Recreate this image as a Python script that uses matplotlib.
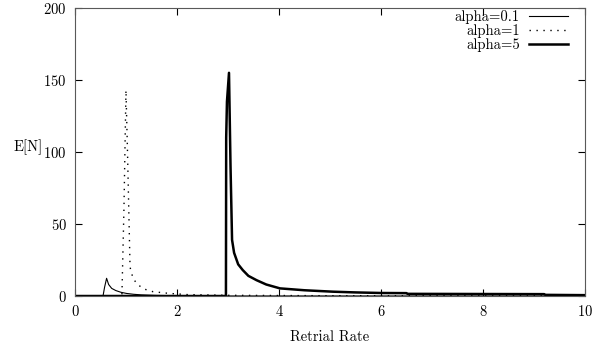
#!/usr/bin/env python3
"""Expected number in orbit vs retrial rate for three alpha values."""

import matplotlib

matplotlib.use("Agg")
import matplotlib.pyplot as plt

plt.rcParams["font.family"] = "serif"
plt.rcParams["font.serif"] = ["cmr10", "DejaVu Serif"]
plt.rcParams["axes.formatter.use_mathtext"] = True
plt.rcParams["mathtext.fontset"] = "cm"

# alpha = 0.1
rate_a01 = [0.0, 0.55, 0.58, 0.62, 0.66, 0.72, 0.8, 0.9, 1.01, 1.15, 1.3, 1.6, 2.0, 3.0, 10.0]
en_a01 = [0.0, 0.0, 6.0, 12.3, 8.0, 5.3, 3.8, 2.6, 1.8, 1.2, 0.8, 0.4, 0.2, 0.05, 0.0]

# alpha = 1
rate_a1 = [0.0, 0.92, 0.96, 1.0, 1.03, 1.08, 1.14, 1.24, 1.37, 1.53, 1.85, 2.2, 3.0, 5.0, 10.0]
en_a1 = [0.0, 0.0, 60.0, 143.0, 100.0, 20.0, 12.0, 7.6, 4.7, 3.0, 1.8, 1.0, 0.5, 0.2, 0.1]

# alpha = 5
rate_a5 = [0.0, 2.96, 2.965, 2.98, 3.02, 3.05, 3.08, 3.12, 3.2, 3.29, 3.4, 3.56, 3.75,
           4.02, 4.5, 5.06, 5.5, 6.0, 6.5, 6.52, 9.2, 9.22, 10.0]
en_a5 = [0.0, 0.0, 110.0, 135.0, 155.0, 90.0, 39.0, 30.0, 22.0, 18.0, 14.0, 11.0, 8.0,
         5.3, 4.0, 3.0, 2.5, 2.1, 2.0, 1.5, 1.3, 0.8, 0.6]


def main() -> None:
    fig = plt.figure(figsize=(6.13, 3.56), dpi=100)
    ax = fig.add_axes([0.1223, 0.1685, 0.832, 0.809])

    ax.plot(rate_a01, en_a01, color="black", linewidth=0.8, label="alpha=0.1")
    ax.plot(rate_a1, en_a1, color="black", linewidth=1.0, linestyle=(0, (1, 4)), label="alpha=1")
    ax.plot(rate_a5, en_a5, color="black", linewidth=1.8, label="alpha=5")

    ax.set_xlim(0, 10)
    ax.set_ylim(0, 200)
    ax.set_xticks(range(0, 11, 2))
    ax.set_yticks(range(0, 201, 50))
    ax.tick_params(direction="in", top=True, right=True, length=5, width=0.8,
                   labelsize=10.5, pad=6, colors="black")
    for spine in ax.spines.values():
        spine.set_color("0.35")
        spine.set_linewidth(0.8)

    ax.set_xlabel("Retrial Rate", fontsize=10.5, labelpad=8)
    ax.set_ylabel("E[N]", fontsize=10.5, rotation=0, ha="right", va="center")
    ax.yaxis.set_label_coords(-0.064, 0.517)

    ax.legend(loc="upper right", frameon=False, markerfirst=False, fontsize=10.5,
              handlelength=2.7, handletextpad=0.6, labelspacing=0.0,
              borderaxespad=0.0, bbox_to_anchor=(0.978, 1.013))

    fig.savefig("out.png", dpi=100)
    plt.close(fig)


if __name__ == "__main__":
    main()
